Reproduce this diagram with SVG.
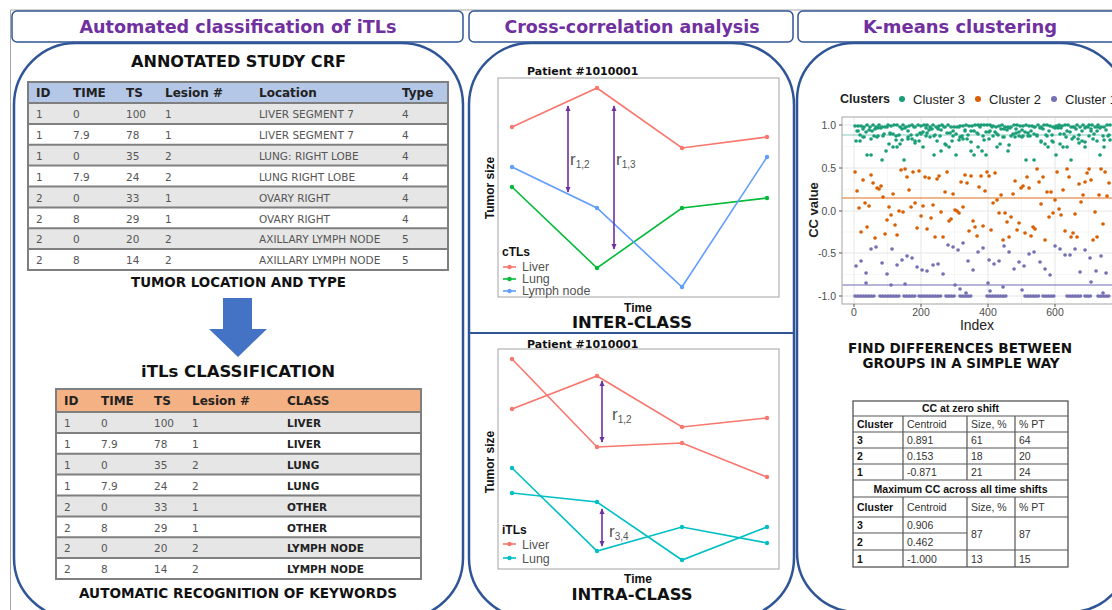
<svg xmlns="http://www.w3.org/2000/svg" width="1112" height="610" viewBox="0 0 1112 610">
<style>
.ttl{font-family:"DejaVu Sans",Verdana,sans-serif;font-weight:bold;font-size:17px;fill:#7030a0;text-anchor:middle}
.hd{font-family:"DejaVu Sans",Verdana,sans-serif;font-weight:bold;fill:#111;text-anchor:middle}
.th{font-family:"DejaVu Sans",Verdana,sans-serif;font-weight:bold;font-size:12px;fill:#222}
.td{font-family:"DejaVu Sans",Verdana,sans-serif;font-size:10.5px;fill:#555}
.tdb{font-family:"DejaVu Sans",Verdana,sans-serif;font-weight:bold;font-size:10.5px;fill:#222}
.box{fill:#fff;stroke:#2f5597;stroke-width:1.5}
.panel{fill:#fff;stroke:#2f5597;stroke-width:2.5}
.rl{stroke:#7f7f7f;stroke-width:2}
.ax{font-family:"Liberation Sans",Arial,sans-serif;font-weight:bold;font-size:12px;fill:#111}
.lg{font-family:"Liberation Sans",Arial,sans-serif;font-size:12.5px;fill:#555}
.pt{font-family:"DejaVu Sans",Verdana,sans-serif;font-weight:bold;font-size:11px;fill:#111}
.rr{font-family:"Liberation Sans",Arial,sans-serif;font-size:17px;fill:#555}
.tick{font-family:"Liberation Sans",Arial,sans-serif;font-size:10.5px;fill:#4d4d4d}
.ct{font-family:"Liberation Sans",Arial,sans-serif;font-size:10.5px;fill:#333}
.ctb{font-family:"Liberation Sans",Arial,sans-serif;font-size:10.5px;font-weight:bold;fill:#111}
.frame{fill:#fff;stroke:#b3b3b3;stroke-width:1.2}
.ln{fill:none;stroke-width:1.6}
.dots{fill:none;stroke-width:3.6;stroke-linecap:round}
.grid{stroke:#e6e6e6;stroke-width:1}
.grid2{stroke:#f2f2f2;stroke-width:0.7}
.tl{stroke:#555;stroke-width:1.2}
.pa{stroke:#7030a0;stroke-width:1.6;marker-start:url(#ah);marker-end:url(#ah)}
.cl{font-family:"Liberation Sans",Arial,sans-serif;font-size:13px;fill:#222}
</style>
<defs>
<marker id="ah" viewBox="0 0 8 8" refX="7" refY="4" markerWidth="6" markerHeight="6" orient="auto-start-reverse" markerUnits="userSpaceOnUse"><path d="M0 0.5L8 4L0 7.5z" fill="#7030a0"/></marker>
</defs>
<rect width="1112" height="610" fill="#fff"/>
<path d="M10.5 610V10H1112" fill="none" stroke="#a6a6a6" stroke-width="1"/>

<!-- Panel 1 -->
<g id="panel-classification">
<rect class="box" x="12" y="11" width="451" height="31" rx="5"/>
<text class="ttl" x="238" y="33" textLength="317" lengthAdjust="spacingAndGlyphs">Automated classification of iTLs</text>
<path class="panel" d="M14 105A62 62 0 0 1 76 43H401A62 62 0 0 1 463 105V558A60 60 0 0 1 403 618H74A60 60 0 0 1 14 558Z"/>
</g>
<g id="node-crf">
<text class="hd" x="238.5" y="66.5" font-size="16" textLength="215" lengthAdjust="spacingAndGlyphs">ANNOTATED STUDY CRF</text>
<rect x="28" y="82" width="420" height="21" fill="#b4c7e7"/>
<rect x="28" y="103" width="420" height="20.9" fill="#e6e6e6"/>
<rect x="28" y="144.75" width="420" height="20.9" fill="#e6e6e6"/>
<rect x="28" y="186.5" width="420" height="20.9" fill="#e6e6e6"/>
<rect x="28" y="228.25" width="420" height="20.9" fill="#e6e6e6"/>
<path class="rl" d="M28 103H448M28 123.9H448M28 144.75H448M28 165.6H448M28 186.5H448M28 207.4H448M28 228.25H448M28 249.1H448"/>
<rect x="28" y="82" width="420" height="188" fill="none" stroke="#7f7f7f" stroke-width="2"/>
<g class="th"><text x="36" y="97">ID</text><text x="73" y="97">TIME</text><text x="126" y="97">TS</text><text x="165" y="97">Lesion #</text><text x="259" y="97">Location</text><text x="402" y="97">Type</text></g>
<g class="td">
<text x="36" y="118">1</text><text x="73" y="118">0</text><text x="126" y="118">100</text><text x="165" y="118">1</text><text x="259" y="118">LIVER SEGMENT 7</text><text x="402" y="118">4</text>
<text x="36" y="139">1</text><text x="73" y="139">7.9</text><text x="126" y="139">78</text><text x="165" y="139">1</text><text x="259" y="139">LIVER SEGMENT 7</text><text x="402" y="139">4</text>
<text x="36" y="160">1</text><text x="73" y="160">0</text><text x="126" y="160">35</text><text x="165" y="160">2</text><text x="259" y="160">LUNG: RIGHT LOBE</text><text x="402" y="160">4</text>
<text x="36" y="180.5">1</text><text x="73" y="180.5">7.9</text><text x="126" y="180.5">24</text><text x="165" y="180.5">2</text><text x="259" y="180.5">LUNG RIGHT LOBE</text><text x="402" y="180.5">4</text>
<text x="36" y="201.5">2</text><text x="73" y="201.5">0</text><text x="126" y="201.5">33</text><text x="165" y="201.5">1</text><text x="259" y="201.5">OVARY RIGHT</text><text x="402" y="201.5">4</text>
<text x="36" y="222.5">2</text><text x="73" y="222.5">8</text><text x="126" y="222.5">29</text><text x="165" y="222.5">1</text><text x="259" y="222.5">OVARY RIGHT</text><text x="402" y="222.5">4</text>
<text x="36" y="243">2</text><text x="73" y="243">0</text><text x="126" y="243">20</text><text x="165" y="243">2</text><text x="259" y="243">AXILLARY LYMPH NODE</text><text x="402" y="243">5</text>
<text x="36" y="264">2</text><text x="73" y="264">8</text><text x="126" y="264">14</text><text x="165" y="264">2</text><text x="259" y="264">AXILLARY LYMPH NODE</text><text x="402" y="264">5</text>
</g>
<text class="hd" x="238.5" y="287" font-size="13.5" textLength="215" lengthAdjust="spacingAndGlyphs">TUMOR LOCATION AND TYPE</text>
</g>
<g id="connectors">
<path d="M223 298H252V329H267L238 357L209 329H223Z" fill="#4472c4"/>
</g>
<g id="node-itls">
<text class="hd" x="238" y="377" font-size="16" textLength="194" lengthAdjust="spacingAndGlyphs">iTLs CLASSIFICATION</text>
<rect x="56" y="389" width="365" height="23" fill="#f4b183"/>
<rect x="56" y="412" width="365" height="20.9" fill="#e6e6e6"/>
<rect x="56" y="453.75" width="365" height="20.9" fill="#e6e6e6"/>
<rect x="56" y="495.5" width="365" height="20.9" fill="#e6e6e6"/>
<rect x="56" y="537.25" width="365" height="20.9" fill="#e6e6e6"/>
<path class="rl" d="M56 412H421M56 432.9H421M56 453.75H421M56 474.6H421M56 495.5H421M56 516.4H421M56 537.25H421M56 558.1H421"/>
<rect x="56" y="389" width="365" height="190" fill="none" stroke="#7f7f7f" stroke-width="2"/>
<g class="th"><text x="64" y="405">ID</text><text x="101" y="405">TIME</text><text x="154" y="405">TS</text><text x="192" y="405">Lesion #</text><text x="287" y="405">CLASS</text></g>
<g class="td">
<text x="64" y="427">1</text><text x="101" y="427">0</text><text x="154" y="427">100</text><text x="192" y="427">1</text>
<text x="64" y="448">1</text><text x="101" y="448">7.9</text><text x="154" y="448">78</text><text x="192" y="448">1</text>
<text x="64" y="469">1</text><text x="101" y="469">0</text><text x="154" y="469">35</text><text x="192" y="469">2</text>
<text x="64" y="489.5">1</text><text x="101" y="489.5">7.9</text><text x="154" y="489.5">24</text><text x="192" y="489.5">2</text>
<text x="64" y="510.5">2</text><text x="101" y="510.5">0</text><text x="154" y="510.5">33</text><text x="192" y="510.5">1</text>
<text x="64" y="531.5">2</text><text x="101" y="531.5">8</text><text x="154" y="531.5">29</text><text x="192" y="531.5">1</text>
<text x="64" y="552">2</text><text x="101" y="552">0</text><text x="154" y="552">20</text><text x="192" y="552">2</text>
<text x="64" y="573">2</text><text x="101" y="573">8</text><text x="154" y="573">14</text><text x="192" y="573">2</text>
</g>
<g class="tdb">
<text x="287" y="427">LIVER</text><text x="287" y="448">LIVER</text><text x="287" y="469">LUNG</text><text x="287" y="489.5">LUNG</text>
<text x="287" y="510.5">OTHER</text><text x="287" y="531.5">OTHER</text><text x="287" y="552">LYMPH NODE</text><text x="287" y="573">LYMPH NODE</text>
</g>
<text class="hd" x="238" y="598" font-size="13.5" textLength="318" lengthAdjust="spacingAndGlyphs">AUTOMATIC RECOGNITION OF KEYWORDS</text>
</g>

<!-- Panel 2 -->
<g id="panel-crosscorr">
<rect class="box" x="469" y="11" width="324" height="31" rx="5"/>
<text class="ttl" x="632" y="33" textLength="255" lengthAdjust="spacingAndGlyphs">Cross-correlation analysis</text>
<path class="panel" d="M469 105A62 62 0 0 1 531 43H732A62 62 0 0 1 794 105V558A60 60 0 0 1 734 618H529A60 60 0 0 1 469 558Z"/>
<path d="M470 333H793" stroke="#2f5597" stroke-width="2"/>
</g>
<g id="node-interclass">
<text class="pt" x="527" y="75">Patient #1010001</text>
<rect class="frame" x="498" y="78" width="281" height="219"/>
<g fill="#f8766d"><polyline class="ln" stroke="#f8766d" points="512,127 597,88 682,148 767,137"/><circle cx="512" cy="127" r="2.2"/><circle cx="597" cy="88" r="2.2"/><circle cx="682" cy="148" r="2.2"/><circle cx="767" cy="137" r="2.2"/></g>
<g fill="#00ba38"><polyline class="ln" stroke="#00ba38" points="512,187 597,268 682,208 767,198"/><circle cx="512" cy="187" r="2.2"/><circle cx="597" cy="268" r="2.2"/><circle cx="682" cy="208" r="2.2"/><circle cx="767" cy="198" r="2.2"/></g>
<g fill="#619cff"><polyline class="ln" stroke="#619cff" points="512,167 597,208 682,287 767,157"/><circle cx="512" cy="167" r="2.2"/><circle cx="597" cy="208" r="2.2"/><circle cx="682" cy="287" r="2.2"/><circle cx="767" cy="157" r="2.2"/></g>
<line class="pa" x1="568" y1="106" x2="568" y2="192"/>
<line class="pa" x1="614" y1="106" x2="614" y2="249"/>
<text class="rr" x="570" y="165">r<tspan font-size="10" dy="3">1,2</tspan></text>
<text class="rr" x="616" y="165">r<tspan font-size="10" dy="3">1,3</tspan></text>
<text class="ax" transform="translate(494,188) rotate(-90)" text-anchor="middle">Tumor size</text>
<text class="ax" x="502" y="256">cTLs</text>
<path d="M503 267H516" stroke="#f8766d" stroke-width="1.6"/><circle cx="509.5" cy="267" r="2.2" fill="#f8766d"/>
<path d="M503 279H516" stroke="#00ba38" stroke-width="1.6"/><circle cx="509.5" cy="279" r="2.2" fill="#00ba38"/>
<path d="M503 291H516" stroke="#619cff" stroke-width="1.6"/><circle cx="509.5" cy="291" r="2.2" fill="#619cff"/>
<text class="lg" x="522" y="271">Liver</text>
<text class="lg" x="522" y="283">Lung</text>
<text class="lg" x="522" y="295">Lymph node</text>
<text class="ax" x="638" y="312" text-anchor="middle">Time</text>
<text class="hd" x="632" y="328" font-size="16" textLength="120" lengthAdjust="spacingAndGlyphs">INTER-CLASS</text>
</g>
<g id="node-intraclass">
<text class="pt" x="527" y="348">Patient #1010001</text>
<rect class="frame" x="498" y="349" width="281" height="220"/>
<g fill="#f8766d"><polyline class="ln" stroke="#f8766d" points="512,359 597,447 682,443 767,477"/><circle cx="512" cy="359" r="2.2"/><circle cx="597" cy="447" r="2.2"/><circle cx="682" cy="443" r="2.2"/><circle cx="767" cy="477" r="2.2"/>
<polyline class="ln" stroke="#f8766d" points="512,409 597,376 682,427 767,418"/><circle cx="512" cy="409" r="2.2"/><circle cx="597" cy="376" r="2.2"/><circle cx="682" cy="427" r="2.2"/><circle cx="767" cy="418" r="2.2"/></g>
<g fill="#00bfc4"><polyline class="ln" stroke="#00bfc4" points="512,468 597,551 682,527 767,543"/><circle cx="512" cy="468" r="2.2"/><circle cx="597" cy="551" r="2.2"/><circle cx="682" cy="527" r="2.2"/><circle cx="767" cy="543" r="2.2"/>
<polyline class="ln" stroke="#00bfc4" points="512,493 597,502 682,560 767,527"/><circle cx="512" cy="493" r="2.2"/><circle cx="597" cy="502" r="2.2"/><circle cx="682" cy="560" r="2.2"/><circle cx="767" cy="527" r="2.2"/></g>
<line class="pa" x1="602" y1="381" x2="602" y2="442"/>
<line class="pa" x1="602" y1="509" x2="602" y2="546"/>
<text class="rr" x="612" y="420">r<tspan font-size="10" dy="3">1,2</tspan></text>
<text class="rr" x="609" y="537">r<tspan font-size="10" dy="3">3,4</tspan></text>
<text class="ax" transform="translate(494,462) rotate(-90)" text-anchor="middle">Tumor size</text>
<text class="ax" x="502" y="534">iTLs</text>
<path d="M503 544H516" stroke="#f8766d" stroke-width="1.6"/><circle cx="509.5" cy="544" r="2.2" fill="#f8766d"/>
<path d="M503 558H516" stroke="#00bfc4" stroke-width="1.6"/><circle cx="509.5" cy="558" r="2.2" fill="#00bfc4"/>
<text class="lg" x="522" y="548.5">Liver</text>
<text class="lg" x="522" y="562.5">Lung</text>
<text class="ax" x="638" y="583" text-anchor="middle">Time</text>
<text class="hd" x="632" y="600" font-size="16" textLength="121" lengthAdjust="spacingAndGlyphs">INTRA-CLASS</text>
</g>

<!-- Panel 3 -->
<g id="panel-kmeans">
<rect class="box" x="798" y="11" width="330" height="31" rx="5"/>
<text class="ttl" x="960" y="33" textLength="194" lengthAdjust="spacingAndGlyphs">K-means clustering</text>
<path class="panel" d="M797 100A57 57 0 0 1 854 43H1060A70 70 0 0 1 1130 113V552A60 60 0 0 1 1070 612H857A60 60 0 0 1 797 552Z"/>
</g>
<g id="node-scatter">
<text x="840" y="103" font-family="Liberation Sans, Arial, sans-serif" font-size="12.5" font-weight="bold" fill="#222">Clusters</text>
<circle cx="902" cy="99" r="3" fill="#1b9e77"/><text class="cl" x="913" y="103.5">Cluster 3</text>
<circle cx="978" cy="99" r="3" fill="#d95f02"/><text class="cl" x="989" y="103.5">Cluster 2</text>
<circle cx="1054" cy="99" r="3" fill="#7570b3"/><text class="cl" x="1065" y="103.5">Cluster 1</text>
<rect x="842" y="117" width="290" height="187" fill="#fff"/>
<path class="grid2" d="M887.5 117V304M954.5 117V304M1021.5 117V304M1088.5 117V304M842 146.5H1112M842 189.5H1112M842 232H1112M842 274.5H1112"/>
<path class="grid" d="M854 117V304M921 117V304M988 117V304M1055 117V304M842 125H1112M842 168H1112M842 211H1112M842 253H1112M842 296H1112"/>
<path d="M842 135H1112" stroke="#1b9e77" stroke-opacity="0.35" stroke-width="1.5"/>
<path class="dots" stroke="#1b9e77" d="M855 126h.1M858 126h.1M861 126h.1M864 127h.1M867 125h.1M870 127h.1M873 125h.1M876 127h.1M879 125h.1M882 127h.1M885 127h.1M888 125h.1M891 126h.1M894 125h.1M897 125h.1M900 127h.1M903 125h.1M906 127h.1M909 126h.1M912 125h.1M915 127h.1M918 125h.1M921 126h.1M924 125h.1M927 125h.1M930 127h.1M933 125h.1M936 127h.1M939 126h.1M942 125h.1M945 127h.1M948 125h.1M951 127h.1M954 127h.1M957 127h.1M960 126h.1M963 126h.1M966 125h.1M969 126h.1M972 126h.1M975 125h.1M978 125h.1M981 125h.1M984 125h.1M987 125h.1M990 125h.1M993 126h.1M996 127h.1M999 126h.1M1002 125h.1M1005 127h.1M1008 127h.1M1011 127h.1M1014 125h.1M1017 125h.1M1020 126h.1M1023 126h.1M1026 125h.1M1029 126h.1M1032 126h.1M1035 127h.1M1038 125h.1M1041 127h.1M1044 125h.1M1047 125h.1M1050 126h.1M1053 127h.1M1056 126h.1M1059 125h.1M1062 126h.1M1065 125h.1M1068 125h.1M1071 127h.1M1074 127h.1M1077 125h.1M1080 127h.1M1083 125h.1M1086 127h.1M1089 125h.1M1092 125h.1M1095 127h.1M1098 125h.1M1101 127h.1M1104 127h.1M1107 125h.1M1110 125h.1
M857 131h.1M860 135h.1M863 129h.1M866 132h.1M869 130h.1M872 131h.1M875 129h.1M878 128h.1M881 128h.1M884 134h.1M887 127h.1M890 133h.1M893 134h.1M896 136h.1M899 135h.1M902 129h.1M905 128h.1M908 131h.1M911 135h.1M914 127h.1M917 135h.1M920 133h.1M923 132h.1M926 128h.1M929 130h.1M932 129h.1M935 135h.1M938 129h.1M941 130h.1M944 127h.1M947 133h.1M950 133h.1M953 131h.1M956 134h.1M959 127h.1M962 136h.1M965 130h.1M968 135h.1M971 131h.1M974 131h.1M977 133h.1M980 127h.1M983 136h.1M986 132h.1M989 132h.1M992 127h.1M995 132h.1M998 135h.1M1001 129h.1M1004 129h.1M1007 130h.1M1010 128h.1M1013 134h.1M1016 129h.1M1019 132h.1M1022 130h.1M1025 132h.1M1028 136h.1M1031 131h.1M1034 127h.1M1037 135h.1M1040 128h.1M1043 129h.1M1046 135h.1M1049 131h.1M1052 135h.1M1055 128h.1M1058 128h.1M1061 128h.1M1064 134h.1M1067 131h.1M1070 132h.1M1073 127h.1M1076 129h.1M1079 135h.1M1082 131h.1M1085 128h.1M1088 127h.1M1091 129h.1M1094 134h.1M1097 127h.1M1100 128h.1M1103 136h.1M1106 130h.1M1109 135h.1
M856 141h.1M860 141h.1M863 137h.1M867 155h.1M871 155h.1M874 136h.1M878 136h.1M882 160h.1M886 151h.1M889 144h.1M893 147h.1M897 147h.1M900 144h.1M904 160h.1M908 139h.1M912 139h.1M915 141h.1M919 141h.1M923 147h.1M926 136h.1M930 137h.1M934 155h.1M937 141h.1M941 151h.1M945 144h.1M949 147h.1M952 141h.1M956 155h.1M960 137h.1M963 139h.1M967 139h.1M971 151h.1M974 155h.1M978 147h.1M982 151h.1M986 155h.1M989 139h.1M993 136h.1M997 147h.1M1000 144h.1M1004 137h.1M1008 151h.1M1011 136h.1M1015 137h.1M1019 136h.1M1023 136h.1M1026 160h.1M1030 136h.1M1034 160h.1M1037 136h.1M1041 141h.1M1045 144h.1M1048 147h.1M1052 141h.1M1056 155h.1M1060 144h.1M1063 147h.1M1067 147h.1M1071 160h.1M1074 137h.1M1078 139h.1M1082 141h.1M1085 147h.1M1089 136h.1M1093 139h.1M1097 141h.1M1100 155h.1M1104 147h.1M1108 136h.1
M858 131h.1M864 137h.1M871 139h.1M877 137h.1M883 136h.1M890 134h.1M896 140h.1M902 140h.1M908 137h.1M915 143h.1M921 134h.1M927 133h.1M934 136h.1M940 136h.1M946 145h.1M953 136h.1M959 140h.1M965 131h.1M971 142h.1M978 134h.1M984 140h.1M990 131h.1M997 134h.1M1003 137h.1M1009 145h.1M1016 133h.1M1022 137h.1M1028 133h.1M1034 134h.1M1041 142h.1M1047 136h.1M1053 142h.1M1060 134h.1M1066 137h.1M1072 139h.1M1079 143h.1M1085 142h.1M1091 131h.1M1097 131h.1M1104 140h.1M1110 140h.1"/>
<path class="dots" stroke="#d95f02" d="M855 172h.1M857 191h.1M859 208h.1M861 232h.1M863 180h.1M865 203h.1M867 227h.1M869 206h.1M871 175h.1M873 183h.1M875 238h.1M877 188h.1M879 189h.1M881 186h.1M883 197h.1M885 234h.1M887 220h.1M889 207h.1M891 215h.1M893 194h.1M895 225h.1M897 235h.1M899 211h.1M901 170h.1M903 212h.1M905 169h.1M907 177h.1M909 190h.1M911 207h.1M913 172h.1M915 203h.1M917 228h.1M919 171h.1M921 216h.1M923 206h.1M925 177h.1M927 229h.1M929 178h.1M931 218h.1M933 205h.1M935 237h.1M937 179h.1M939 176h.1M941 212h.1M943 237h.1M945 192h.1M947 172h.1M949 221h.1M951 219h.1M953 194h.1M955 210h.1M957 211h.1M959 213h.1M961 182h.1M963 207h.1M965 175h.1M967 183h.1M969 231h.1M971 176h.1M973 221h.1M975 227h.1M977 236h.1M979 187h.1M981 176h.1M983 226h.1M985 191h.1M987 172h.1M989 176h.1M991 230h.1M993 203h.1M995 173h.1M997 200h.1M999 213h.1M1001 195h.1M1003 240h.1M1005 213h.1M1007 222h.1M1009 237h.1M1011 217h.1M1013 194h.1M1015 181h.1M1017 230h.1M1019 223h.1M1021 188h.1M1023 186h.1M1025 233h.1M1027 177h.1M1029 188h.1M1031 236h.1M1033 227h.1M1035 229h.1M1037 169h.1M1039 182h.1M1041 204h.1M1043 177h.1M1045 240h.1M1047 192h.1M1049 217h.1M1051 192h.1M1053 213h.1M1055 200h.1M1057 172h.1M1059 209h.1M1061 215h.1M1063 190h.1M1065 231h.1M1067 169h.1M1069 177h.1M1071 237h.1M1073 233h.1M1075 214h.1M1077 237h.1M1079 184h.1M1081 202h.1M1083 195h.1M1085 182h.1M1087 173h.1M1089 169h.1M1091 180h.1M1093 240h.1M1095 212h.1M1097 237h.1M1099 195h.1M1101 169h.1M1103 224h.1M1105 172h.1M1107 196h.1M1109 183h.1"/>
<path class="dots" stroke="#7570b3" d="M856 266h.1M861 261h.1M866 273h.1M871 249h.1M876 247h.1M882 263h.1M887 274h.1M892 249h.1M897 265h.1M902 260h.1M907 256h.1M912 258h.1M917 267h.1M922 270h.1M927 271h.1M933 265h.1M938 264h.1M943 274h.1M948 245h.1M953 247h.1M958 250h.1M963 243h.1M968 261h.1M973 270h.1M978 252h.1M983 248h.1M989 260h.1M994 264h.1M999 261h.1M1004 246h.1M1009 252h.1M1014 269h.1M1019 262h.1M1024 266h.1M1029 254h.1M1034 252h.1M1040 262h.1M1045 269h.1M1050 275h.1M1055 246h.1M1060 249h.1M1065 255h.1M1070 255h.1M1075 249h.1M1080 272h.1M1085 250h.1M1090 258h.1M1096 271h.1M1101 256h.1M1106 273h.1
M866 283h.1M891 285h.1M905 284h.1M955 285h.1M960 289h.1M966 293h.1M990 291h.1M988 283h.1M1003 287h.1M1091 282h.1M1022 290h.1M1103 293h.1"/>
<path class="dots" stroke="#7570b3" stroke-dasharray="0 2.7" d="M855 296H876M880 296H901M904 296H916M919 296H941M946 296H956M960 296H973M987 296H1006M1025 296H1041M1043 296H1056M1067 296H1081M1085 296H1091M1098 296H1111"/>
<path d="M842 198H1112" stroke="#d95f02" stroke-opacity="0.6" stroke-width="1.6"/>
<path d="M842 285H1112" stroke="#7570b3" stroke-opacity="0.7" stroke-width="1.3"/>
<rect x="842" y="117" width="290" height="187" fill="none" stroke="#b3b3b3" stroke-width="1.2"/>
<path stroke="#555" stroke-width="1" d="M839 125H842M839 168H842M839 211H842M839 253H842M839 296H842M854 304V307M921 304V307M988 304V307M1055 304V307"/>
<g class="tick" text-anchor="end"><text x="836" y="129">1.0</text><text x="836" y="172">0.5</text><text x="836" y="215">0.0</text><text x="836" y="257">-0.5</text><text x="836" y="300">-1.0</text></g>
<g class="tick" text-anchor="middle"><text x="854" y="316">0</text><text x="921" y="316">200</text><text x="988" y="316">400</text><text x="1055" y="316">600</text><text x="1122" y="316">800</text></g>
<text x="977" y="329.5" font-family="Liberation Sans, Arial, sans-serif" font-size="14" fill="#222" text-anchor="middle">Index</text>
<text transform="translate(818,210) rotate(-90)" font-family="Liberation Sans, Arial, sans-serif" font-size="13" font-weight="bold" fill="#222" text-anchor="middle">CC value</text>
<text class="hd" x="960" y="353" font-size="13.5" textLength="224" lengthAdjust="spacingAndGlyphs">FIND DIFFERENCES BETWEEN</text>
<text class="hd" x="961" y="368" font-size="13.5" textLength="197" lengthAdjust="spacingAndGlyphs">GROUPS IN A SIMPLE WAY</text>
</g>
<g id="node-cluster-table">
<rect x="853" y="401" width="215" height="166" fill="#fff" stroke="#555" stroke-width="1.3"/>
<path class="tl" d="M853 416H1068M853 432H1068M853 448H1068M853 464H1068M853 480H1068M853 497H1068M853 517H1068M853 533H967M853 550H1068M903 416V480M967 416V480M1015 416V480M903 497V567M967 497V567M1015 497V567"/>
<text class="ctb" x="960.5" y="412" text-anchor="middle">CC at zero shift</text>
<text class="ctb" x="857" y="428">Cluster</text><text class="ct" x="907" y="428">Centroid</text><text class="ct" x="971" y="428">Size, %</text><text class="ct" x="1019" y="428">% PT</text>
<text class="ctb" x="857" y="444">3</text><text class="ct" x="907" y="444">0.891</text><text class="ct" x="971" y="444">61</text><text class="ct" x="1019" y="444">64</text>
<text class="ctb" x="857" y="460">2</text><text class="ct" x="907" y="460">0.153</text><text class="ct" x="971" y="460">18</text><text class="ct" x="1019" y="460">20</text>
<text class="ctb" x="857" y="476">1</text><text class="ct" x="907" y="476">-0.871</text><text class="ct" x="971" y="476">21</text><text class="ct" x="1019" y="476">24</text>
<text class="ctb" x="960.5" y="493" text-anchor="middle" textLength="174" lengthAdjust="spacingAndGlyphs">Maximum CC across all time shifts</text>
<text class="ctb" x="857" y="511">Cluster</text><text class="ct" x="907" y="511">Centroid</text><text class="ct" x="971" y="511">Size, %</text><text class="ct" x="1019" y="511">% PT</text>
<text class="ctb" x="857" y="529">3</text><text class="ct" x="907" y="529">0.906</text>
<text class="ctb" x="857" y="546">2</text><text class="ct" x="907" y="546">0.462</text>
<text class="ct" x="971" y="538">87</text><text class="ct" x="1019" y="538">87</text>
<text class="ctb" x="857" y="563">1</text><text class="ct" x="907" y="563">-1.000</text><text class="ct" x="971" y="563">13</text><text class="ct" x="1019" y="563">15</text>
</g>
</svg>
